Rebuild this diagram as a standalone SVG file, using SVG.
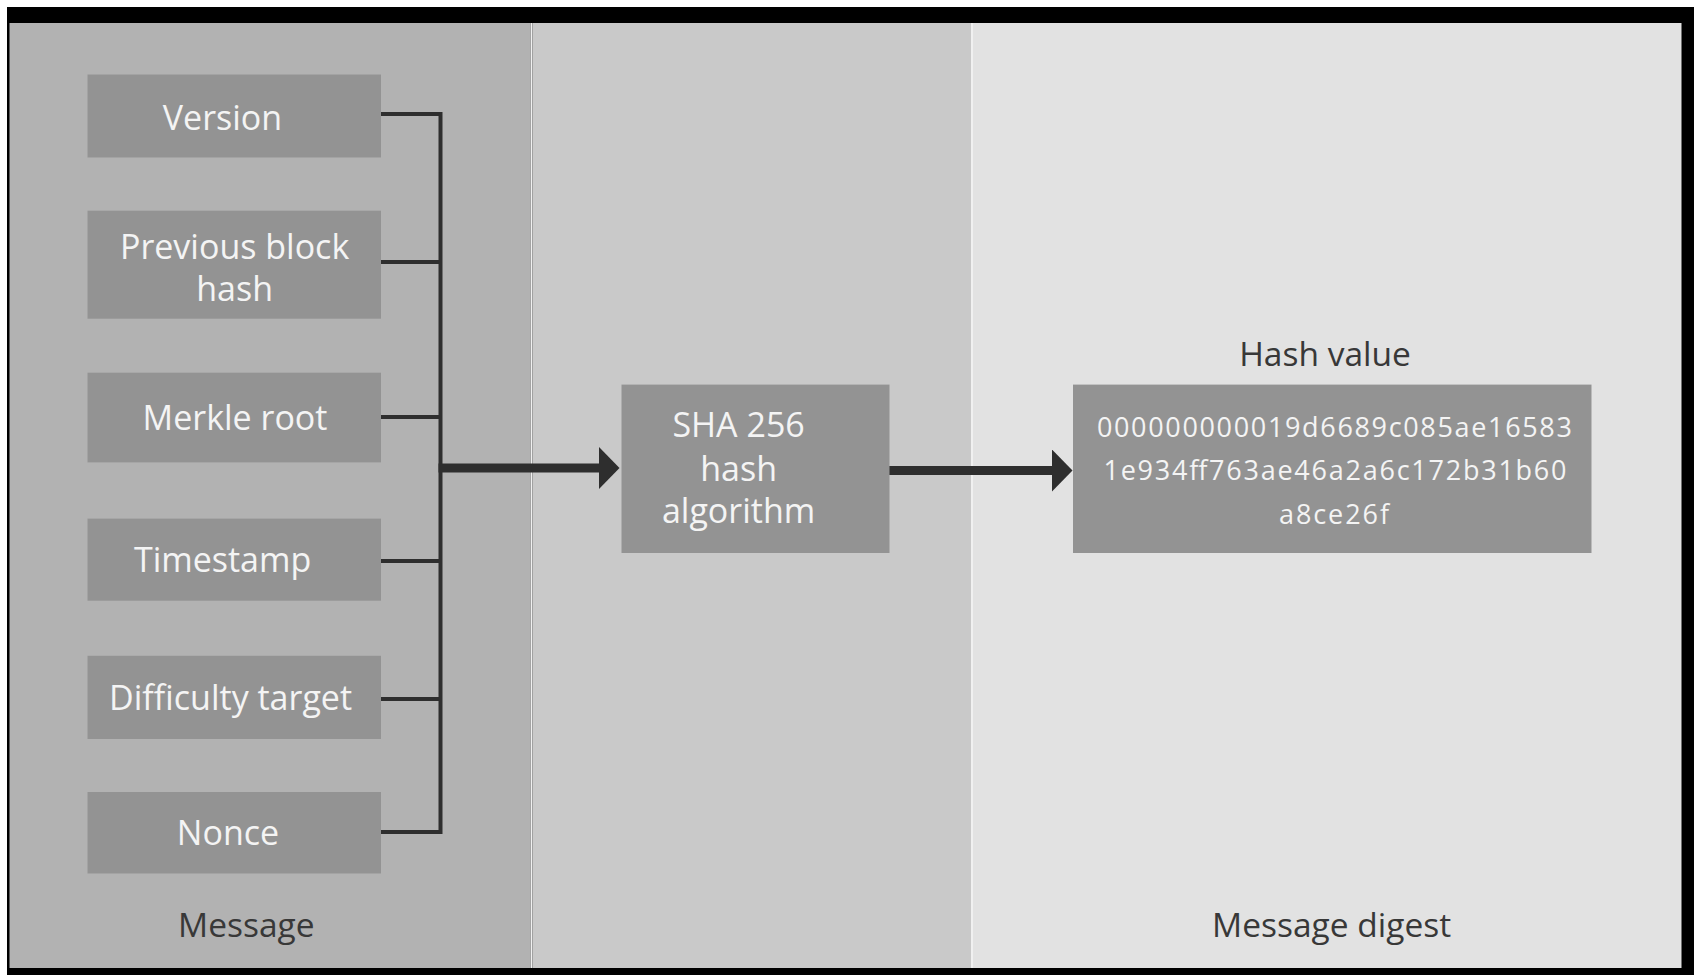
<svg xmlns="http://www.w3.org/2000/svg" width="1694" height="975" viewBox="0 0 1694 975">
  <defs>
    <style>
      .box { fill: #939393; }
      .bt { font-family: "Open Sans", "Liberation Sans", sans-serif; font-size: 34px; fill: #f4f4f4; text-anchor: middle; }
      .hv { font-family: "Open Sans", "Liberation Sans", sans-serif; font-size: 27px; fill: #f4f4f4; text-anchor: middle; }
      .lbl { font-family: "Open Sans", "Liberation Sans", sans-serif; font-size: 33.5px; fill: #383838; text-anchor: middle; }
      .conn { fill: none; stroke: #2e2e2e; stroke-width: 4; stroke-linejoin: miter; stroke-linecap: butt; }
      .shaft { fill: none; stroke: #2e2e2e; stroke-width: 9; }
      .head { fill: #2e2e2e; }
    </style>
    <marker id="ah" viewBox="0 0 21 43" refX="0.5" refY="21.5" markerWidth="21" markerHeight="43" markerUnits="userSpaceOnUse" orient="auto">
      <path class="head" d="M0,0 L21,21.5 L0,43 Z"/>
    </marker>
  </defs>

  <!-- frame and panels -->
  <rect x="0" y="0" width="1694" height="975" fill="#ffffff"/>
  <rect x="7" y="7" width="1687" height="968" fill="#000000"/>
  <g id="panels">
    <rect x="9.5" y="23" width="521" height="945" fill="#b2b2b2"/>
    <rect x="530.5" y="23" width="2" height="945" fill="#f0f0f0"/>
    <rect x="532.5" y="23" width="438.5" height="945" fill="#c9c9c9"/>
    <rect x="971" y="23" width="2" height="945" fill="#f0f0f0"/>
    <rect x="973" y="23" width="708.5" height="945" fill="#e2e2e2"/>
  </g>

  <!-- connectors -->
  <g id="connectors">
    <path class="conn" d="M381,114 H440.5 V832 H381"/>
    <path class="conn" d="M381,262 H440.5"/>
    <path class="conn" d="M381,417 H440.5"/>
    <path class="conn" d="M381,561 H440.5"/>
    <path class="conn" d="M381,699 H440.5"/>
    <path class="shaft" d="M438.5,468 H599" marker-end="url(#ah)"/>
    <path class="shaft" d="M889,470.5 H1052" marker-end="url(#ah)"/>
  </g>

  <!-- message field nodes -->
  <g id="node-version">
    <rect class="box" x="87.5" y="74.5" width="293.5" height="83"/>
    <text class="bt" x="222.5" y="129.5">Version</text>
  </g>
  <g id="node-prev-hash">
    <rect class="box" x="87.5" y="210.7" width="293.5" height="108"/>
    <text class="bt" x="234.6" y="259">Previous block</text>
    <text class="bt" x="234.6" y="301">hash</text>
  </g>
  <g id="node-merkle">
    <rect class="box" x="87.5" y="372.7" width="293.5" height="89.7"/>
    <text class="bt" x="235" y="430">Merkle root</text>
  </g>
  <g id="node-timestamp">
    <rect class="box" x="87.5" y="518.6" width="293.5" height="82.1"/>
    <text class="bt" x="222.6" y="572">Timestamp</text>
  </g>
  <g id="node-difficulty">
    <rect class="box" x="87.5" y="655.8" width="293.5" height="83.2"/>
    <text class="bt" x="230.6" y="710">Difficulty target</text>
  </g>
  <g id="node-nonce">
    <rect class="box" x="87.5" y="792" width="293.5" height="81.5"/>
    <text class="bt" x="228" y="845">Nonce</text>
  </g>
  <g id="label-message">
    <text class="lbl" x="246.3" y="937">Message</text>
  </g>

  <!-- SHA 256 node -->
  <g id="node-sha256">
    <rect class="box" x="621.5" y="384.6" width="268" height="168.4"/>
    <text class="bt" x="738.6" y="437">SHA 256</text>
    <text class="bt" x="738.6" y="481">hash</text>
    <text class="bt" x="738.6" y="523">algorithm</text>
  </g>

  <!-- hash value node -->
  <g id="label-hash-value">
    <text class="lbl" x="1325" y="366">Hash value</text>
  </g>
  <g id="node-hash-value">
    <rect class="box" x="1073" y="384.6" width="518.5" height="168.4"/>
    <text class="hv" x="1334.4" y="436.5" textLength="475" lengthAdjust="spacing">000000000019d6689c085ae16583</text>
    <text class="hv" x="1335" y="480" textLength="463" lengthAdjust="spacing">1e934ff763ae46a2a6c172b31b60</text>
    <text class="hv" x="1334" y="523.5" textLength="110" lengthAdjust="spacing">a8ce26f</text>
  </g>
  <g id="label-message-digest">
    <text class="lbl" x="1331.6" y="937">Message digest</text>
  </g>
</svg>
